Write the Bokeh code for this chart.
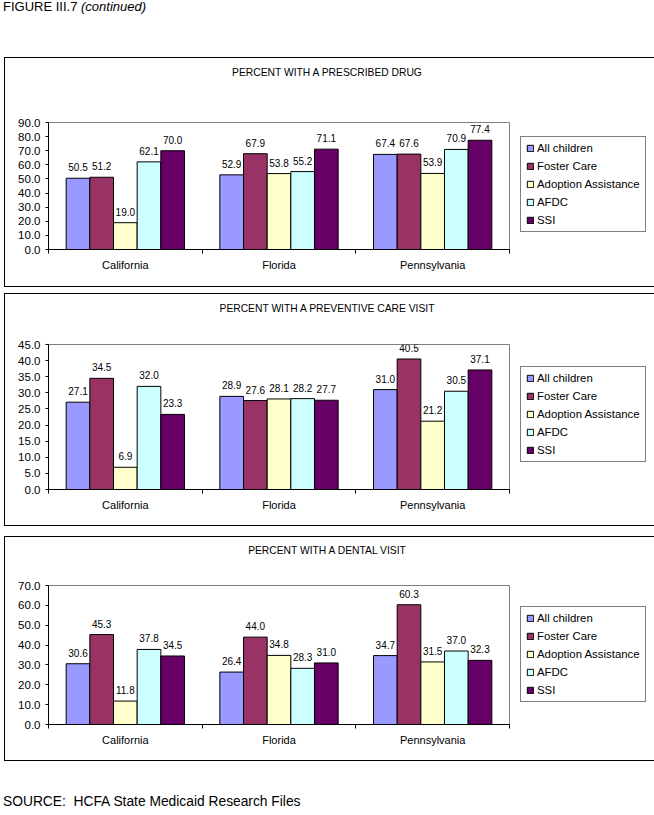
from bokeh.plotting import figure
from bokeh.models import (Range1d, FixedTicker, SingleIntervalTicker, PrintfTickFormatter,
                          ColumnDataSource, LabelSet, Legend, LegendItem, Div, Spacer)
from bokeh.layouts import column, row
from bokeh.transform import dodge
from bokeh.core.properties import value
from bokeh.embed import file_html
from bokeh.resources import INLINE

# ---------------- data ----------------
states = ["California", "Florida", "Pennsylvania"]
series = ["All children", "Foster Care", "Adoption Assistance", "AFDC", "SSI"]
colors = ["#9999FF", "#993366", "#FFFFCC", "#CCFFFF", "#660066"]

drug_all_children = [50.5, 52.9, 67.4]
drug_foster_care = [51.2, 67.9, 67.6]
drug_adoption = [19.0, 53.8, 53.9]
drug_afdc = [62.1, 55.2, 70.9]
drug_ssi = [70.0, 71.1, 77.4]

prev_all_children = [27.1, 28.9, 31.0]
prev_foster_care = [34.5, 27.6, 40.5]
prev_adoption = [6.9, 28.1, 21.2]
prev_afdc = [32.0, 28.2, 30.5]
prev_ssi = [23.3, 27.7, 37.1]

dental_all_children = [30.6, 26.4, 34.7]
dental_foster_care = [45.3, 44.0, 60.3]
dental_adoption = [11.8, 34.8, 31.5]
dental_afdc = [37.8, 28.3, 37.0]
dental_ssi = [34.5, 31.0, 32.3]

titles = ["PERCENT WITH A PRESCRIBED DRUG",
          "PERCENT WITH A PREVENTIVE CARE VISIT",
          "PERCENT WITH A DENTAL VISIT"]
y_max = [90, 45, 70]
y_step = [10, 5, 10]

FONT = "Liberation Sans"
W = 644
FRAME_L = 43
FRAME_W = 461
BAR_W = 0.154
TOP_PAD = 12


def make_panel(title, values, ymax, ystep, height, frame_top, frame_bottom_gap,
               title_pad, legend_bottom):
    div_h = frame_top - TOP_PAD
    fig_h = height - div_h
    fh = fig_h - TOP_PAD - frame_bottom_gap
    n = len(states)
    data = {"x": [i + 0.5 for i in range(n)]}
    for j, vals in enumerate(values):
        data["s%d" % j] = vals
        data["t%d" % j] = ["%.1f" % v for v in vals]
    src = ColumnDataSource(data)

    p = figure(frame_width=FRAME_W, frame_height=fh,
               min_border_left=FRAME_L, min_border_right=W - FRAME_L - FRAME_W,
               min_border_top=TOP_PAD, min_border_bottom=frame_bottom_gap,
               x_range=Range1d(0, n), y_range=Range1d(0, ymax),
               output_backend="svg", toolbar_location=None)
    p.background_fill_color = "white"
    p.border_fill_color = "white"
    p.outline_line_color = "#808080"
    p.outline_line_width = 1
    p.xgrid.visible = False
    p.ygrid.visible = False

    items = []
    for j, name in enumerate(series):
        off = (j - (len(series) - 1) / 2) * BAR_W
        r = p.vbar(x=dodge("x", off, range=p.x_range), top="s%d" % j, width=BAR_W,
                   source=src, fill_color=colors[j], line_color="black", line_width=1)
        items.append(LegendItem(label=name, renderers=[r]))
        lbl = LabelSet(x=dodge("x", off, range=p.x_range), y="s%d" % j, text="t%d" % j,
                       source=src, text_font=value(FONT), text_font_size="10px",
                       text_align="center", text_baseline="middle", y_offset=11,
                       text_color="black")
        p.add_layout(lbl)

    # y axis
    ya = p.yaxis[0]
    ya.ticker = SingleIntervalTicker(interval=ystep)
    ya.formatter = PrintfTickFormatter(format="%.1f")
    ya.major_label_text_font = FONT
    ya.major_label_text_font_size = "11.5px"
    ya.major_label_text_color = "black"
    ya.major_tick_out = 3
    ya.major_tick_in = 0
    ya.minor_tick_out = 0
    ya.minor_tick_in = 0
    ya.axis_line_color = "black"
    ya.major_tick_line_color = "black"
    ya.major_label_standoff = 5

    # x axis: labels at category centres, tick marks at category boundaries
    xa = p.xaxis[0]
    xa.ticker = FixedTicker(ticks=[i + 0.5 for i in range(n)],
                            minor_ticks=[i for i in range(n + 1)])
    xa.major_label_overrides = {i + 0.5: s for i, s in enumerate(states)}
    xa.major_label_text_font = FONT
    xa.major_label_text_font_size = "11px"
    xa.major_label_text_color = "black"
    xa.major_tick_out = 0
    xa.major_tick_in = 0
    xa.minor_tick_out = 4
    xa.minor_tick_in = 0
    xa.minor_tick_line_color = "black"
    xa.axis_line_color = "black"
    xa.major_label_standoff = 5

    leg = Legend(items=items, location=(11, legend_bottom))
    leg.margin = 0
    leg.padding = 5
    leg.spacing = 6
    leg.glyph_width = 8
    leg.glyph_height = 8
    leg.label_height = 12
    leg.label_standoff = 3
    leg.label_text_font = FONT
    leg.label_text_font_size = "11.4px"
    leg.label_text_color = "black"
    leg.border_line_color = "black"
    leg.border_line_width = 1
    leg.background_fill_color = "white"
    leg.background_fill_alpha = 1
    p.add_layout(leg, "right")

    tdiv = Div(text='<div style="padding-top:%dpx;text-align:center;width:%dpx">%s</div>'
                    % (title_pad, W, title),
               width=W, height=div_h, margin=(0, 0, 0, 0),
               styles={"font-family": FONT, "font-size": "10.3px", "line-height": "13px",
                       "color": "black"})
    box = column(tdiv, p, spacing=0,
                 styles={"outline": "1px solid black", "outline-offset": "0px"})
    return row(Spacer(width=5, height=height), box, spacing=0)


p1 = make_panel(titles[0], [drug_all_children, drug_foster_care, drug_adoption, drug_afdc, drug_ssi],
                y_max[0], y_step[0], 228, 64, 37, 8, 17)
p2 = make_panel(titles[1], [prev_all_children, prev_foster_care, prev_adoption, prev_afdc, prev_ssi],
                y_max[1], y_step[1], 231, 50, 36, 8, 27)
p3 = make_panel(titles[2], [dental_all_children, dental_foster_care, dental_adoption, dental_afdc, dental_ssi],
                y_max[2], y_step[2], 223, 48, 36, 7, 22)

head = Div(text="FIGURE III.7 <i>(continued)</i>", width=W, height=58, margin=(0, 0, 0, 3),
           styles={"font-family": FONT, "font-size": "13px", "line-height": "13px", "color": "black"})
src_div = Div(text="SOURCE:&nbsp; HCFA State Medicaid Research Files", width=W, height=13,
              margin=(0, 0, 0, 3),
              styles={"font-family": FONT, "font-size": "13.8px", "line-height": "13px", "color": "black"})

layout = column(head, p1, Spacer(width=W, height=8), p2, Spacer(width=W, height=12), p3,
                Spacer(width=W, height=35), src_div, spacing=0)

open("out.html", "w").write(file_html(layout, INLINE))
